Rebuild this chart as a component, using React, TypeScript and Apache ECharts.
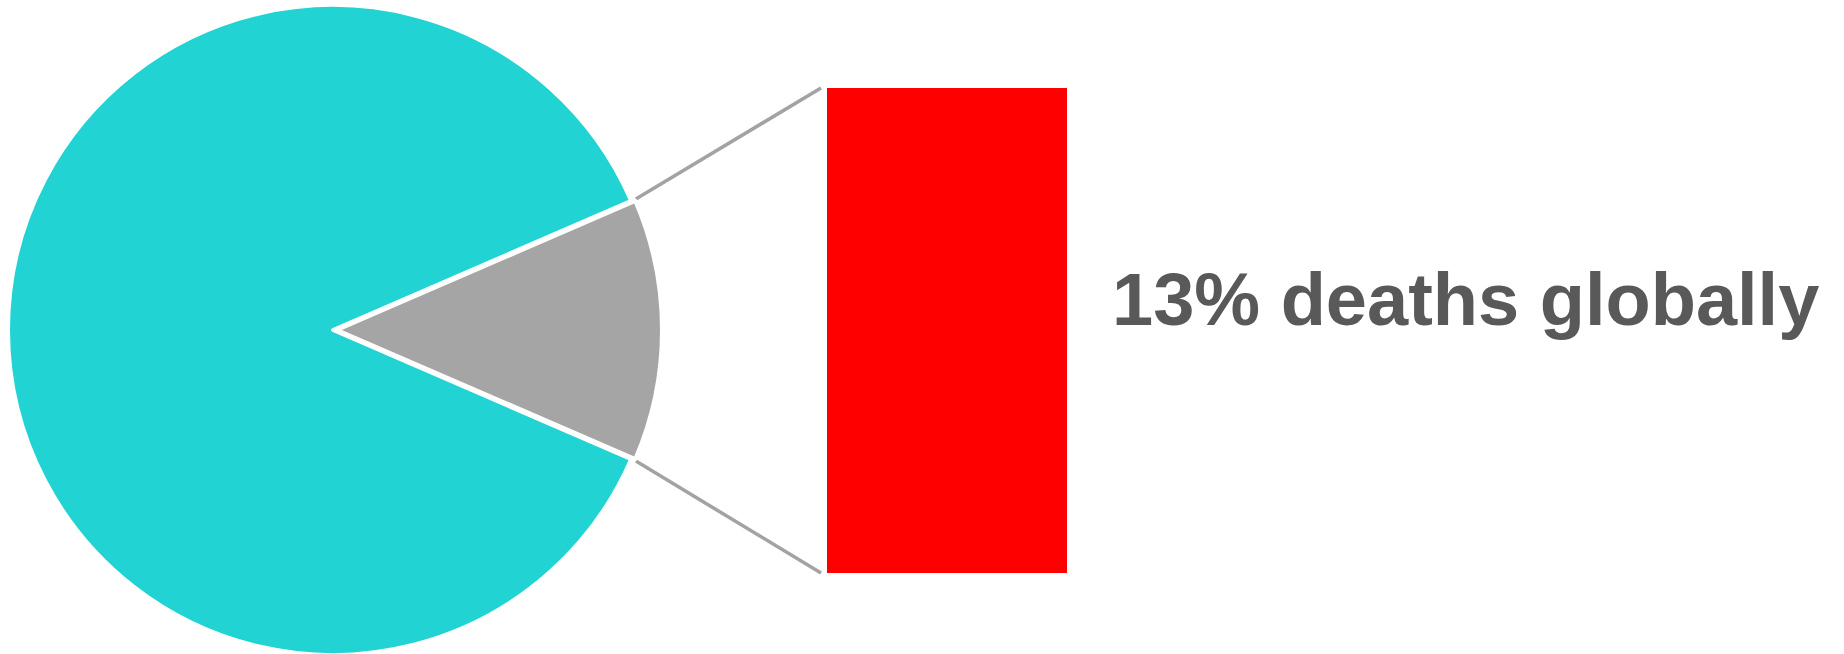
import React, { useEffect, useRef } from "react";
import * as echarts from "echarts";

// Data
const pieNames = ["Other", "Deaths"];
const pieValues = [87, 13];
const pieColors = ["#21D3D3", "#A5A5A5"];
const barCategories = ["Deaths"];
const barValues = [13];
const labelText = "13% deaths globally";

export default function App() {
  const ref = useRef<HTMLDivElement>(null);

  useEffect(() => {
    if (!ref.current) return;
    const chart = echarts.init(ref.current, undefined, { renderer: "svg" });

    const cx = 333;
    const cy = 330;
    const r = 325;
    const total = pieValues.reduce((a, b) => a + b, 0);
    const half = (pieValues[1] / total) * 180; // half angle of the small slice, degrees
    const rad = (half * Math.PI) / 180;
    const lr = 330;
    const gridLeft = 827;
    const gridTop = 88;
    const gridW = 240;
    const gridH = 485;

    const sx = cx + lr * Math.cos(rad);
    const syTop = cy - lr * Math.sin(rad);
    const syBot = cy + lr * Math.sin(rad);

    chart.setOption({
      animation: false,
      backgroundColor: "#ffffff",
      grid: { left: gridLeft, top: gridTop, width: gridW, height: gridH },
      xAxis: { type: "category", data: barCategories, show: false },
      yAxis: { type: "value", min: 0, max: barValues[0], show: false },
      series: [
        {
          type: "pie",
          center: [cx, cy],
          radius: [0, r],
          startAngle: half,
          clockwise: true,
          selectedMode: "single",
          selectedOffset: 4,
          label: { show: false },
          labelLine: { show: false },
          emphasis: { disabled: true },
          itemStyle: { borderColor: "#ffffff", borderWidth: 4 },
          data: [
            { name: pieNames[1], value: pieValues[1], selected: true, itemStyle: { color: pieColors[1] } },
            { name: pieNames[0], value: pieValues[0], itemStyle: { color: pieColors[0] } },
          ],
        },
        {
          type: "bar",
          data: barValues,
          barWidth: "100%",
          itemStyle: { color: "#FF0000" },
          emphasis: { disabled: true },
        },
      ],
      graphic: [
        {
          type: "line",
          shape: { x1: sx, y1: syTop, x2: gridLeft - 6, y2: gridTop },
          style: { stroke: "#A3A3A3", lineWidth: 3.5 },
        },
        {
          type: "line",
          shape: { x1: sx, y1: syBot, x2: gridLeft - 6, y2: gridTop + gridH },
          style: { stroke: "#A3A3A3", lineWidth: 3.5 },
        },
        {
          type: "text",
          x: 1112,
          y: 299,
          style: {
            text: labelText,
            fill: "#595959",
            font: "bold 74px 'Liberation Sans', Arial, sans-serif",
            verticalAlign: "middle",
            align: "left",
          },
        },
      ],
    });

    return () => chart.dispose();
  }, []);

  return (
    <div
      ref={ref}
      style={{ position: "fixed", left: 0, top: 0, width: 1844, height: 654 }}
    />
  );
}
